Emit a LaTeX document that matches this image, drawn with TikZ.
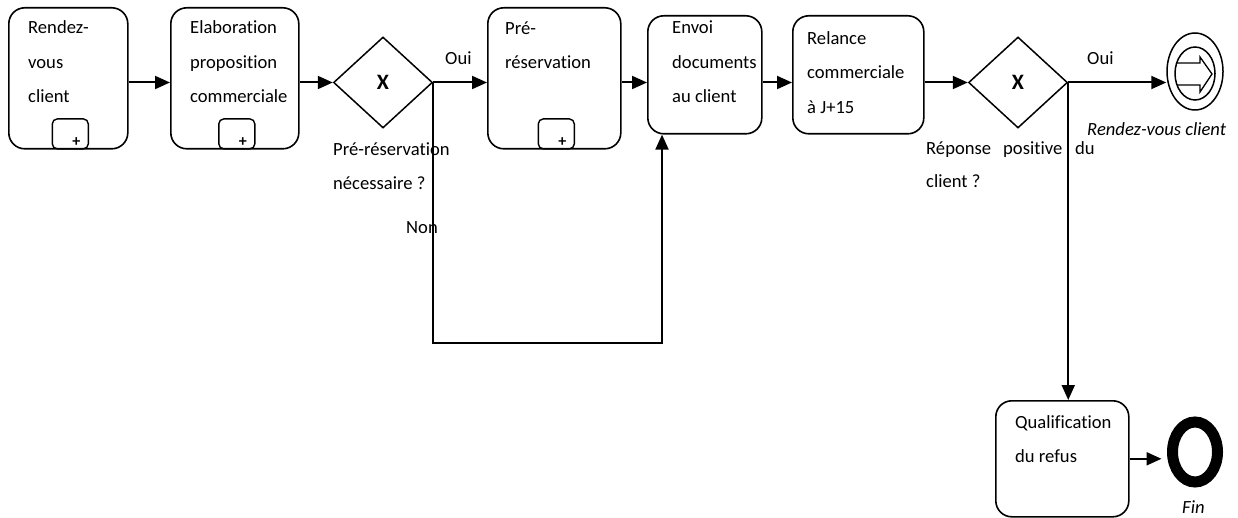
\documentclass[tikz,border=0pt]{standalone}
\usepackage{fontspec}
\setmainfont{Carlito}[Ligatures=CommonOff]
\usetikzlibrary{arrows.meta,shapes.geometric}
\begin{document}
\begin{tikzpicture}[x=1pt,y=-1pt,
  box/.style={draw,line width=1.6pt,rounded corners=16pt,inner sep=0pt,anchor=north west},
  submark/.style={draw,line width=1.4pt,rounded corners=5pt,inner sep=0pt,minimum width=36pt,minimum height=30pt,anchor=south},
  plussign/.style={inner sep=0pt,font=\fontsize{16}{16}\bfseries\selectfont},
  gw/.style={diamond,draw,line width=1.5pt,inner sep=0pt,minimum width=99pt,minimum height=91pt,font=\fontsize{22}{22}\bfseries\selectfont},
  txt/.style={anchor=base west,inner sep=0pt,font=\fontsize{18.6}{20}\selectfont},
  itxt/.style={txt,font=\fontsize{18.6}{20}\itshape\selectfont},
  conn/.style={draw,line width=2pt,-{Triangle[length=15pt,width=13pt]}}
]
\useasboundingbox (0,0) rectangle (1238,518);

% tasks
\node[box,minimum width=119pt,minimum height=141pt] (b1) at (8,7) {};
\node[box,minimum width=128pt,minimum height=141pt] (b2) at (170,7) {};
\node[box,minimum width=133pt,minimum height=141pt] (b3) at (487,7) {};
\node[box,minimum width=114pt,minimum height=118pt] (b4) at (647,15) {};
\node[box,minimum width=131pt,minimum height=118pt] (b5) at (792,15) {};
\node[box,minimum width=133pt,minimum height=116pt] (q) at (995,400) {};

% sub-process markers
\node[submark] (m1) at ([xshift=2pt]b1.south) {};
\node[submark] (m2) at ([xshift=2pt]b2.south) {};
\node[submark] (m3) at ([xshift=2pt]b3.south) {};
\node[plussign] (p1) at ([xshift=6pt,yshift=-8pt]m1.center) {+};
\node[plussign] (p2) at ([xshift=6pt,yshift=-8pt]m2.center) {+};
\node[plussign] (p3) at ([xshift=6pt,yshift=-8pt]m3.center) {+};

% gateways
\node[gw] (gw1) at (383,82.5) {X};
\node[gw] (gw2) at (1018,82.5) {X};

% link event
\node[ellipse,draw,line width=1.5pt,inner sep=0pt,minimum width=56pt,minimum height=77pt] (ev1) at (1195,71.5) {};
\node[ellipse,draw,line width=1.5pt,inner sep=0pt,minimum width=40pt,minimum height=53pt] (ev1i) at (1195,73.5) {};
\draw[line width=1.3pt,line join=miter] (1177,63) -- (1200,63) -- (1200,57) -- (1212,74) -- (1200,92) -- (1200,85) -- (1177,85);

% end event
\node[ellipse,draw,line width=11pt,inner sep=0pt,minimum width=45pt,minimum height=60pt] (fin) at (1195,452) {};

% texts in tasks
\node[txt] (t11) at (28,34) {Rendez-};
\node[txt] (t12) at (28,68.5) {vous};
\node[txt] (t13) at (28,103) {client};
\node[txt] (t21) at (190,34) {Elaboration};
\node[txt] (t22) at (190,68.5) {proposition};
\node[txt] (t23) at (190,103) {commerciale};
\node[txt] (t31) at (505,35) {Pré-};
\node[txt] (t32) at (505,68.5) {réservation};
\node[txt] (t41) at (672,34) {Envoi};
\node[txt] (t42) at (672,68.5) {documents};
\node[txt] (t43) at (672,103) {au client};
\node[txt] (t51) at (807,45) {Relance};
\node[txt] (t52) at (807,79) {commerciale};
\node[txt] (t53) at (807,114) {à J+15};
\node[txt] (tq1) at (1015,428) {Qualification};
\node[txt] (tq2) at (1015,462) {du refus};

% other labels
\node[txt] (oui1) at (445,65) {Oui};
\node[txt] (oui2) at (1087,65) {Oui};
\node[txt] (g1a) at (333,156) {Pré-réservation};
\node[txt] (g1b) at (333,190) {nécessaire ?};
\node[txt] (non) at (406,234) {Non};
\node[txt] (g2a) at (926,155) {Réponse};
\node[txt] (g2b) at (1003,155) {positive};
\node[txt] (g2c) at (1075,155) {du};
\node[txt] (g2d) at (926,188) {client ?};
\node[itxt] (evl) at (1087,136) {Rendez-vous client};
\node[itxt] (finl) at (1182,513) {Fin};

% connectors
\coordinate (nonc) at (662,343);
\draw[conn] (b1.east |- gw1) -- (b2.west |- gw1);
\draw[conn] (b2.east |- gw1) -- (gw1.west);
\draw[conn] (gw1.east) -- (b3.west |- gw1);
\draw[conn] (b3.east |- gw1) -- (b4.west |- gw1);
\draw[conn] (b4.east |- gw1) -- (b5.west |- gw1);
\draw[conn] (b5.east |- gw2) -- (gw2.west);
\draw[conn] (gw2.east) -- (gw2.east -| ev1.west);
\draw[conn] (gw2.east) -- (gw2.east |- q.north);
\draw[conn] (gw1.east) |- (nonc) -- (nonc |- b4.south);
\draw[conn,shorten >=5.5pt] (q.east) -- (q.east -| fin.west);
\end{tikzpicture}
\end{document}
